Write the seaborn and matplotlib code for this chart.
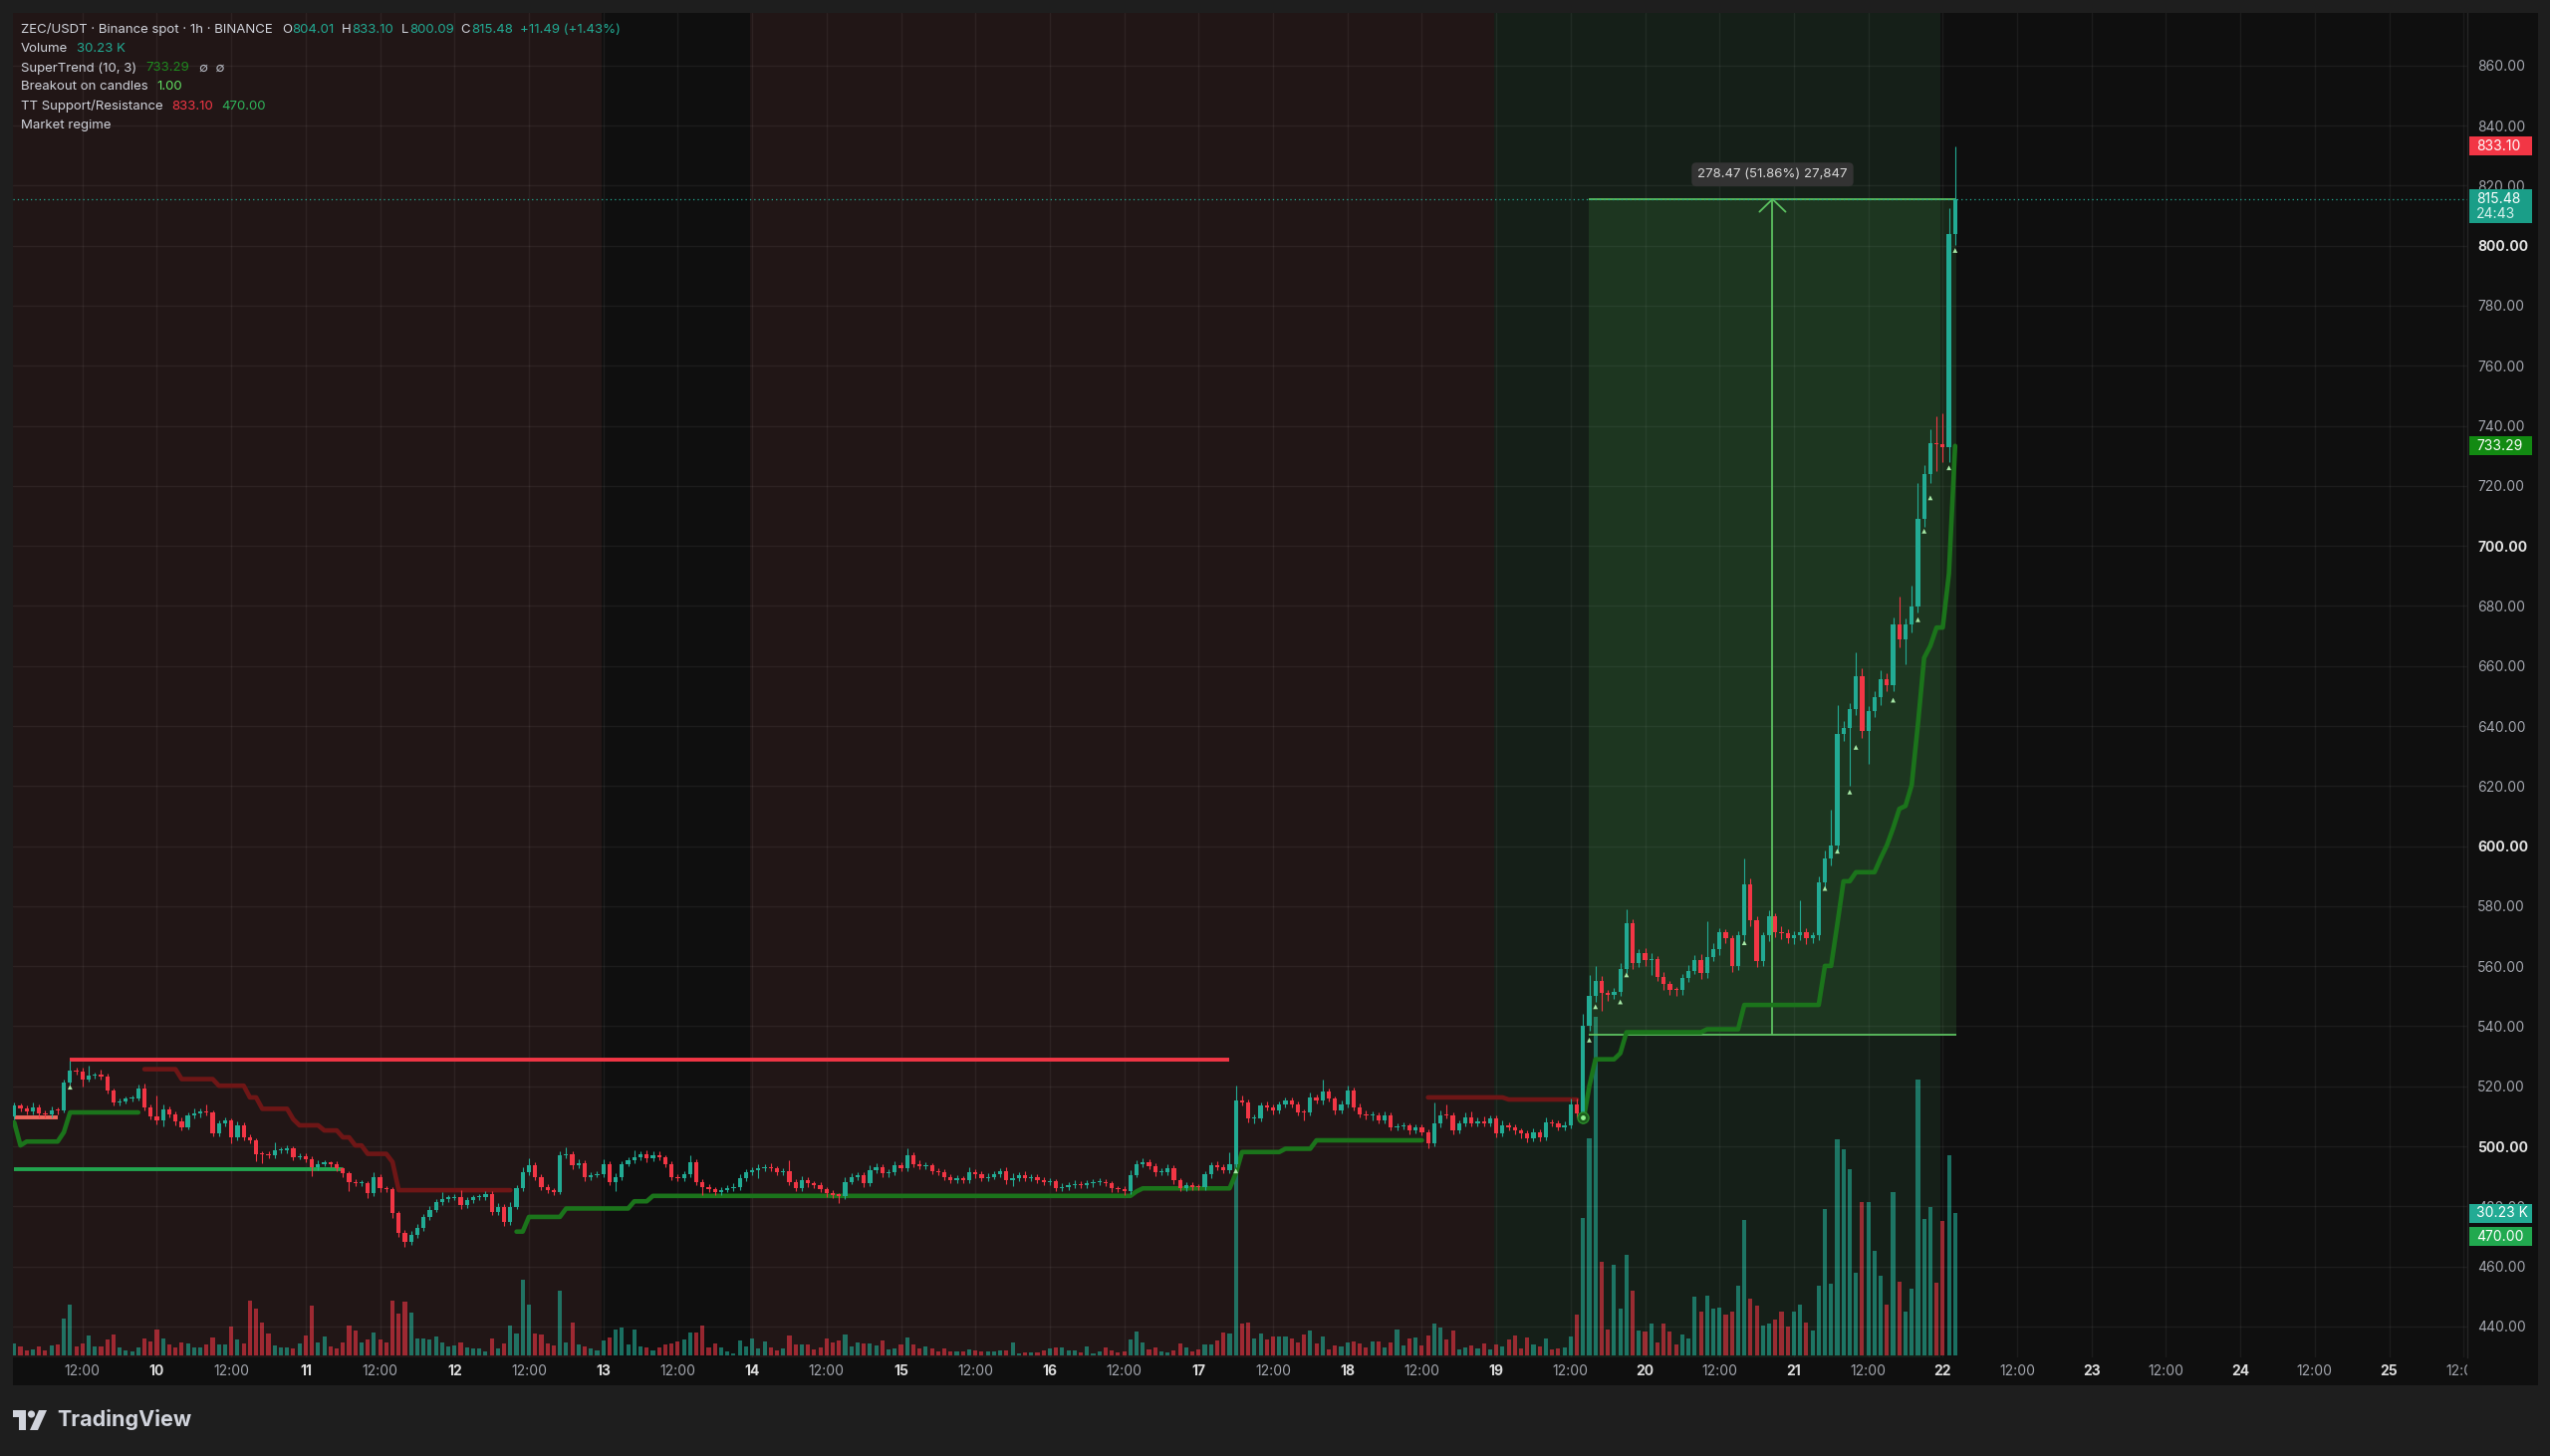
import numpy as np
import pandas as pd
import seaborn as sns
import matplotlib.pyplot as plt
from matplotlib.patches import Rectangle, Circle, Polygon

# ZEC/USDT 1h candles, from the 9th 01:00 to the 22nd 02:00
first_open = 510.0
closes = [
    # 9th
    513.5, 512.5, 511.5, 513.0, 511.0, 510.5, 512.0, 511.8, 521.3, 525.2, 525.0, 522.4,
    523.5, 523.7, 523.4, 518.6, 514.7, 515.0, 515.8, 516.0, 519.1, 513.0, 510.0,
    # 10th
    508.6, 512.2, 510.8, 508.3, 506.4, 510.3, 511.0, 511.6, 511.3, 504.2, 507.5, 508.6,
    503.1, 507.0, 503.1, 502.0, 497.5, 497.3, 497.0, 498.7, 498.8, 499.2, 496.5, 496.8,
    # 11th
    495.7, 493.1, 494.2, 494.3, 494.2, 492.6, 491.0, 488.2, 487.6, 487.7, 484.3, 489.8,
    486.0, 485.7, 477.7, 471.0, 468.3, 470.5, 472.7, 476.5, 478.8, 481.5, 482.6, 482.9,
    # 12th
    483.2, 480.4, 482.0, 483.0, 483.2, 484.0, 478.2, 479.9, 474.9, 479.9, 486.0, 491.5,
    493.7, 489.8, 486.5, 485.4, 484.8, 497.0, 497.5, 493.7, 494.5, 489.8, 490.4, 490.6,
    # 13th
    494.2, 488.2, 489.8, 494.2, 495.3, 496.4, 497.5, 495.9, 497.2, 496.4, 494.2, 489.8,
    489.5, 490.6, 494.8, 488.2, 486.5, 485.7, 484.8, 485.4, 486.0, 486.5, 489.3, 491.3,
    # 14th
    492.0, 492.6, 493.1, 492.6, 491.5, 491.7, 488.2, 486.0, 488.7, 487.6, 487.0, 485.7,
    484.3, 483.7, 483.6, 488.2, 489.8, 490.4, 487.6, 492.0, 493.1, 490.9, 491.3, 493.7,
    # 15th
    492.8, 497.0, 494.2, 493.5, 493.7, 491.7, 491.5, 489.8, 488.7, 489.3, 488.7, 491.5,
    490.6, 489.5, 489.8, 490.6, 491.7, 488.7, 489.5, 490.4, 489.5, 489.8, 488.7, 488.2,
    # 16th
    488.3, 486.2, 486.5, 487.0, 487.3, 487.0, 487.6, 488.2, 488.2, 487.6, 486.0, 485.7,
    485.0, 490.4, 494.2, 494.8, 493.5, 491.3, 491.5, 492.6, 488.7, 486.2, 487.0, 486.5,
    # 17th
    486.4, 490.6, 493.7, 493.1, 492.0, 494.2, 515.2, 514.7, 509.2, 509.4, 513.6, 513.0,
    511.9, 514.1, 515.2, 514.1, 511.4, 511.3, 516.3, 515.2, 518.2, 515.8, 512.0, 514.1,
    # 18th
    518.6, 513.0, 510.8, 510.3, 510.4, 508.6, 510.3, 506.4, 506.7, 506.9, 505.3, 506.4,
    504.7, 500.9, 507.5, 510.3, 510.2, 505.3, 507.5, 509.7, 507.8, 508.3, 507.5, 509.2,
    # 19th
    504.2, 507.0, 506.4, 505.3, 504.2, 502.7, 504.7, 503.1, 508.1, 507.5, 506.4, 507.0,
    514.1, 511.0, 540.0, 550.1, 555.1, 551.1, 550.5, 551.5, 559.1, 574.2, 561.1, 564.5,
    # 20th
    562.1, 562.5, 556.5, 554.1, 552.1, 552.0, 556.1, 558.5, 562.1, 557.7, 563.1, 565.7,
    571.2, 569.2, 560.1, 570.2, 587.3, 575.2, 561.7, 570.2, 576.6, 571.2, 570.9, 569.2,
    # 21st
    570.2, 571.2, 569.2, 570.2, 587.9, 595.9, 600.3, 637.5, 639.5, 645.6, 656.6, 638.5,
    645.0, 649.6, 655.6, 653.6, 673.7, 668.7, 673.7, 679.8, 709.0, 724.0, 734.1, 733.8,
    # 22nd
    733.0, 803.99, 815.48,
]

wick_hi = [
    1.2, 0.8, 1.0, 1.5, 0.8, 1.0, 1.2, 1.0, 0.8, 3.3, 1.0, 1.2,
    3.5, 1.0, 1.8, 0.8, 0.6, 1.0, 0.8, 1.0, 1.5, 1.9, 1.0,
    6.8, 1.8, 1.0, 0.8, 1.2, 1.0, 1.5, 1.0, 2.4, 0.8, 1.0, 1.2,
    0.8, 1.2, 1.0, 0.8, 0.6, 1.0, 1.2, 2.8, 1.0, 1.2, 0.8, 1.0,
    0.8, 1.0, 1.2, 1.0, 0.8, 1.0, 0.6, 0.8, 1.0, 1.0, 0.8, 1.5,
    1.0, 0.8, 0.6, 0.8, 1.0, 1.2, 1.3, 1.0, 1.2, 1.0, 2.2, 1.0,
    1.0, 2.2, 1.0, 0.8, 1.0, 1.2, 1.0, 1.2, 0.8, 1.5, 1.0, 1.5,
    2.3, 1.0, 0.8, 1.0, 0.8, 1.5, 2.3, 1.0, 1.2, 0.8, 1.0, 1.2,
    1.5, 1.0, 1.2, 1.0, 1.2, 2.2, 1.0, 1.2, 1.0, 1.0, 0.8, 1.0,
    1.0, 1.2, 2.2, 1.0, 0.8, 1.0, 0.8, 1.0, 1.0, 1.2, 1.5, 1.0,
    1.2, 1.6, 1.0, 1.2, 0.8, 1.0, 3.7, 1.0, 1.5, 1.0, 0.8, 1.0,
    0.8, 1.0, 0.6, 1.5, 1.2, 1.0, 1.0, 1.8, 1.2, 1.0, 1.0, 1.2,
    1.0, 2.2, 1.0, 1.2, 1.0, 0.8, 1.0, 0.8, 1.0, 1.2, 0.8, 1.5,
    1.0, 1.0, 1.2, 1.0, 1.0, 1.2, 1.5, 1.0, 1.2, 1.0, 0.8, 1.0,
    1.0, 0.8, 1.2, 1.0, 1.5, 1.2, 1.0, 1.0, 1.2, 1.0, 0.8, 0.8,
    1.0, 1.5, 1.2, 1.2, 1.0, 1.0, 1.2, 1.5, 1.0, 0.8, 1.0, 1.0,
    1.0, 1.2, 1.0, 1.2, 1.0, 3.8, 5.0, 1.8, 1.0, 1.2, 1.0, 1.2,
    1.0, 1.0, 1.2, 1.0, 0.8, 1.0, 1.5, 1.0, 4.2, 1.0, 0.8, 1.2,
    1.5, 1.0, 1.2, 1.0, 1.2, 0.8, 1.2, 1.0, 1.0, 1.2, 0.8, 1.0,
    1.0, 0.8, 7.2, 1.5, 3.7, 1.0, 1.2, 1.5, 2.0, 1.2, 1.8, 1.2,
    1.0, 1.5, 1.0, 1.0, 0.8, 1.0, 1.2, 1.0, 1.5, 1.0, 1.0, 1.2,
    1.8, 1.9, 4.0, 6.9, 4.9, 1.5, 1.0, 1.2, 2.0, 4.8, 1.5, 1.2,
    1.5, 2.0, 1.0, 1.5, 1.0, 1.0, 1.2, 2.0, 1.5, 2.0, 11.9, 2.0,
    1.5, 1.2, 1.0, 1.5, 8.7, 2.0, 1.5, 1.2, 2.0, 1.0, 2.0, 1.5,
    1.5, 10.8, 1.5, 1.2, 2.0, 2.5, 11.7, 9.5, 2.0, 2.0, 8.0, 2.5,
    1.5, 2.0, 3.0, 2.0, 2.5, 9.3, 2.0, 7.0, 12.0, 3.0, 4.9, 8.9,
    10.2, 8.5, 17.62,
]

wick_lo = [
    1.0, 0.8, 1.0, 0.8, 1.2, 1.0, 0.8, 1.0, 0.6, 0.8, 1.0, 2.4,
    0.8, 1.0, 1.2, 1.0, 1.2, 1.0, 0.8, 1.0, 0.8, 1.2, 1.0,
    1.2, 2.1, 1.0, 1.2, 1.0, 0.8, 1.0, 1.2, 1.0, 1.0, 0.8, 1.0,
    2.1, 1.0, 1.2, 1.0, 2.5, 2.8, 1.0, 0.8, 1.0, 1.2, 1.0, 0.8,
    1.0, 3.1, 1.0, 0.8, 1.2, 1.0, 1.2, 3.2, 1.0, 1.0, 1.5, 1.0,
    1.2, 1.0, 1.5, 1.2, 1.8, 1.2, 1.0, 0.8, 1.0, 0.8, 1.0, 1.2,
    0.8, 1.2, 1.0, 1.0, 0.8, 1.0, 1.2, 1.0, 1.5, 1.0, 0.8, 1.0,
    1.0, 1.2, 1.2, 1.0, 1.0, 0.8, 1.0, 1.2, 1.0, 1.5, 1.0, 0.8,
    1.0, 1.2, 3.2, 1.0, 0.8, 1.0, 1.0, 1.2, 1.0, 1.0, 1.2, 1.2,
    1.0, 1.0, 0.8, 1.2, 2.7, 1.0, 1.0, 1.0, 0.8, 1.0, 1.0, 0.8,
    1.0, 2.7, 1.0, 1.0, 1.2, 1.0, 1.2, 1.0, 1.0, 1.2, 1.0, 1.0,
    1.2, 1.0, 2.6, 1.0, 0.8, 1.0, 1.2, 1.0, 0.8, 1.2, 1.0, 1.0,
    1.2, 1.0, 1.0, 1.2, 1.0, 1.0, 1.2, 1.0, 1.0, 0.8, 1.0, 1.0,
    1.2, 1.0, 1.0, 0.8, 1.0, 1.2, 2.0, 1.0, 1.0, 1.2, 1.0, 1.0,
    1.0, 1.2, 1.0, 1.0, 0.8, 1.0, 1.0, 1.2, 1.0, 1.0, 1.2, 1.0,
    1.2, 1.0, 0.8, 1.0, 1.0, 1.2, 1.0, 1.0, 1.2, 1.2, 1.0, 1.0,
    1.0, 1.0, 1.2, 1.0, 1.0, 1.0, 1.2, 1.0, 1.2, 1.5, 1.0, 1.0,
    1.2, 1.0, 1.0, 1.0, 1.2, 2.7, 1.0, 1.0, 1.2, 1.0, 1.2, 1.0,
    1.0, 1.2, 1.0, 1.2, 1.5, 1.0, 1.0, 1.2, 1.0, 1.0, 1.2, 1.0,
    1.0, 1.5, 1.0, 1.2, 1.0, 1.2, 1.0, 1.0, 1.2, 1.0, 1.0, 1.0,
    1.2, 1.0, 1.0, 1.2, 1.5, 1.2, 1.0, 1.5, 1.0, 1.0, 1.2, 1.0,
    1.0, 1.2, 1.0, 1.5, 2.0, 6.1, 2.0, 1.5, 1.5, 1.5, 2.0, 1.5,
    2.0, 5.1, 1.5, 2.0, 1.5, 2.0, 1.5, 1.5, 1.0, 2.0, 1.5, 1.5,
    2.0, 1.5, 2.0, 1.5, 1.5, 2.0, 2.0, 1.5, 2.0, 1.5, 2.0, 1.5,
    2.0, 1.5, 2.0, 1.5, 1.5, 2.0, 2.5, 2.0, 2.5, 19.5, 2.0, 2.5,
    11.0, 2.0, 2.5, 2.0, 2.0, 2.5, 8.0, 2.5, 2.0, 2.5, 3.0, 8.8,
    5.0, 5.0, 3.9,
]

# volume in thousands
volume_k = [
    2.6, 2.0, 1.1, 1.2, 1.9, 1.1, 2.1, 2.3, 7.8, 10.8, 2.0, 2.6,
    4.2, 2.0, 1.9, 3.4, 4.4, 1.8, 1.1, 0.9, 1.6, 3.5, 3.0,
    5.6, 3.7, 2.3, 1.8, 2.8, 2.5, 1.6, 1.6, 2.3, 3.9, 2.3, 2.3,
    6.1, 3.3, 2.5, 11.7, 10.0, 6.9, 4.7, 2.1, 1.8, 1.8, 1.4, 2.5,
    4.2, 10.5, 2.8, 4.0, 2.0, 1.4, 2.8, 6.4, 5.2, 2.7, 3.3, 4.9,
    3.4, 2.7, 11.7, 8.8, 11.4, 9.2, 3.5, 3.7, 3.3, 4.0, 2.7, 2.0,
    2.1, 2.8, 1.6, 1.4, 1.4, 0.8, 3.7, 1.4, 2.5, 6.4, 4.7, 16.0,
    10.9, 4.7, 4.4, 2.5, 2.1, 13.8, 2.8, 6.9, 2.3, 1.9, 1.4, 1.1,
    3.2, 3.9, 5.5, 6.0, 2.3, 5.5, 2.0, 1.6, 1.1, 1.6, 2.3, 2.6,
    3.0, 3.3, 4.8, 4.8, 6.4, 1.6, 2.5, 1.6, 0.9, 0.5, 3.2, 1.9,
    3.7, 1.4, 3.0, 1.8, 1.1, 1.4, 4.2, 2.3, 2.3, 2.3, 1.2, 1.8,
    3.7, 2.8, 3.2, 4.4, 2.0, 2.8, 2.5, 2.5, 2.1, 3.2, 1.2, 1.4,
    2.3, 3.9, 2.3, 1.4, 1.9, 1.4, 0.8, 1.4, 0.9, 0.8, 0.9, 1.3,
    1.1, 0.9, 0.9, 0.8, 1.1, 1.1, 2.7, 0.5, 0.6, 0.6, 0.7, 1.1,
    1.4, 1.8, 1.8, 1.1, 1.1, 0.7, 2.0, 0.5, 0.8, 1.6, 1.1, 0.7,
    0.8, 3.4, 5.1, 2.7, 1.3, 1.6, 0.9, 0.7, 1.1, 2.5, 1.6, 0.8,
    1.2, 2.3, 2.3, 3.2, 4.9, 4.6, 50.0, 6.8, 7.0, 3.6, 4.6, 3.4,
    4.1, 4.0, 4.0, 3.7, 2.8, 4.4, 5.4, 2.5, 4.0, 1.3, 2.2, 2.0,
    2.7, 3.0, 2.5, 1.8, 3.0, 2.9, 1.8, 2.7, 5.5, 2.2, 3.6, 3.9,
    2.2, 4.3, 6.7, 5.9, 3.4, 5.4, 1.3, 1.8, 2.2, 1.5, 2.5, 1.3,
    2.3, 2.0, 3.4, 4.3, 1.5, 3.9, 2.3, 2.0, 3.5, 1.3, 1.5, 1.6,
    4.1, 8.7, 29.3, 46.1, 72.0, 20.0, 5.6, 19.3, 9.9, 21.5, 13.8, 5.4,
    5.0, 6.7, 2.7, 6.8, 5.0, 2.3, 4.4, 3.6, 12.6, 9.3, 12.8, 10.0,
    10.2, 8.7, 9.3, 14.9, 28.8, 12.1, 10.5, 6.4, 6.7, 7.6, 9.4, 6.2,
    9.3, 10.8, 6.9, 5.4, 14.9, 31.1, 15.2, 45.9, 43.9, 39.6, 17.5, 32.7,
    32.6, 22.2, 17.0, 10.9, 34.7, 15.7, 9.4, 14.2, 58.7, 29.0, 31.6, 15.4,
    28.6, 42.6, 30.23,
]

# SuperTrend (10, 3): levels where the line steps, and the trend segments
st_idx = [0, 1, 2, 8, 9,
          21, 27, 33, 38, 40, 45, 46, 50, 53, 55, 57, 61, 62,
          81, 83, 89, 100, 103, 181, 182, 197, 198, 205, 210,
          228, 241,
          253, 254, 255, 259, 260, 273, 279, 292, 294, 295, 297, 301, 302, 303,
          304, 305, 306, 307, 308, 309, 310, 312, 313]
st_val = [508.0, 500.3, 501.6, 504.7, 511.3,
          525.7, 522.4, 520.2, 516.3, 512.5, 509.0, 507.0, 505.3, 503.0, 500.3, 497.5, 494.8, 485.4,
          471.6, 476.5, 479.3, 481.7, 483.5, 485.0, 486.0, 491.0, 498.1, 499.2, 502.0,
          516.3, 515.6,
          508.1, 520.0, 529.0, 531.0, 538.0, 539.0, 547.1, 560.1, 574.0, 588.3, 591.3, 596.0, 600.3, 606.0,
          612.4, 613.4, 620.4, 640.6, 662.7, 666.7, 672.8, 690.8, 733.3]
st_seg_start = [0, 21, 81, 228, 253]
st_seg_end = [20, 80, 227, 252, 313]
st_seg_up = [True, False, True, False, True]

# TT Support/Resistance levels
tt_levels = [529.0, 509.5, 492.5]
tt_from = [9, 0, 0]
tt_to = [196, 7, 53]
tt_colors = ['#f23645', '#f0675c', '#22a44f']

# breakout markers
brk_idx = [9, 197, 254, 255, 259, 260, 279, 292, 294, 296, 297, 303, 307, 308, 309, 312, 313]
brk_price = [519.7, 491.8, 535.4, 546.5, 548.1, 557.1, 567.8, 585.9, 598.3, 618.0, 632.9,
             648.6, 675.4, 704.9, 716.0, 726.0, 798.4]

# market regime background
regime_edges = [-1, 95, 119, 239, 311, 400]
regime_colors = ['#211616', '#0f0f0f', '#211616', '#151f18', '#0f0f0f']

# measure tool
measure_x = [253.9, 313.2]
measure_y = [537.01, 815.48]
measure_text = '278.47 (51.86%) 27,847'

last_close = 815.48

price_ticks = [440, 460, 480, 500, 520, 540, 560, 580, 600, 620, 640,
               660, 680, 700, 720, 740, 760, 780, 800, 820, 840, 860]
price_labels = ['440.00', '460.00', '480.00', '500.00', '520.00', '540.00', '560.00',
                '580.00', '600.00', '620.00', '640.00', '660.00', '680.00', '700.00',
                '720.00', '740.00', '760.00', '780.00', '800.00', '820.00', '840.00', '860.00']
bold_prices = [500, 600, 700, 800]

time_ticks = [11, 23, 35, 47, 59, 71, 83, 95, 107, 119, 131, 143, 155, 167, 179, 191,
              203, 215, 227, 239, 251, 263, 275, 287, 299, 311, 323, 335, 347, 359, 371, 383, 395]
time_labels = ['12:00', '10', '12:00', '11', '12:00', '12', '12:00', '13', '12:00', '14',
               '12:00', '15', '12:00', '16', '12:00', '17', '12:00', '18', '12:00', '19',
               '12:00', '20', '12:00', '21', '12:00', '22', '12:00', '23', '12:00', '24',
               '12:00', '25', '12:00']

n = len(closes)
assert len(wick_hi) == n and len(wick_lo) == n and len(volume_k) == n

UP = '#22ab94'
DOWN = '#f23645'

sns.set_theme(style='dark', rc={'figure.facecolor': '#1e1e1e', 'axes.facecolor': '#0f0f0f',
                                'axes.edgecolor': '#0f0f0f'})
plt.rcParams['font.family'] = ['Inter', 'DejaVu Sans']

W, H = 2560, 1462
fig = plt.figure(figsize=(W / 100, H / 100), dpi=100)

# dark chart panel
fig.add_artist(Rectangle((13 / W, 1 - 1391 / H), (2548 - 13) / W, (1391 - 13) / H,
                         transform=fig.transFigure, facecolor='#0f0f0f', lw=0, zorder=-1))

ax_vol = fig.add_axes([13 / W, 1 - 1363 / H, (2477 - 13) / W, (1363 - 13) / H])
ax = ax_vol.twinx()
ax_t = fig.add_axes([13 / W, 1 - 1391 / H, (2477 - 13) / W, 28 / H])

x = np.arange(n)
c = np.array(closes)
o = np.array([first_open] + closes[:-1])
top = np.maximum(o, c)
bot = np.minimum(o, c)
hi = top + np.array(wick_hi)
lo = bot - np.array(wick_lo)
up = c >= o

xlim = (-0.21, 395.6)

# background regimes, grid and volume
for k in range(len(regime_colors)):
    ax_vol.axvspan(regime_edges[k] - 0.3, regime_edges[k + 1] - 0.3, color=regime_colors[k], lw=0, zorder=0)
ax_vol.set_xlim(*xlim)
ax_vol.set_ylim(-0.42, 285.6)
ax_vol.set_xticks(time_ticks)
ax_vol.tick_params(axis='x', length=0, labelbottom=False)
ax_vol.set_yticks([])
ax_vol.grid(axis='x', color='white', alpha=0.055, lw=1)
ax_vol.set_axisbelow(True)
vol_colors = [(0.133, 0.671, 0.58, 0.62) if u else (0.949, 0.212, 0.271, 0.6) for u in up]
ax_vol.bar(x, volume_k, width=0.66, color=vol_colors, lw=0, zorder=2)
for s in ax_vol.spines.values():
    s.set_visible(False)

# price axis
ax.set_ylim(429.7, 877.5)
ax.set_yticks(price_ticks, labels=price_labels)
ax.tick_params(axis='y', length=0, pad=7.2, labelsize=10, labelcolor='#a3a6ae',
               right=True, labelright=True, left=False, labelleft=False)
for lbl, v in zip(ax.get_yticklabels(), price_ticks):
    if v in bold_prices:
        lbl.set_fontweight('bold')
        lbl.set_color('#e2e2e2')
ax.grid(axis='y', color='white', alpha=0.055, lw=1)
ax.set_axisbelow(True)
for name, s in ax.spines.items():
    s.set_visible(name == 'right')
ax.spines['right'].set_color('#262626')
ax.spines['right'].set_linewidth(1)

# measure box (behind candles)
mx0, mx1 = measure_x
my0, my1 = measure_y
ax.add_patch(Rectangle((mx0, my0), mx1 - mx0, my1 - my0, facecolor='#4caf50', alpha=0.16, lw=0, zorder=1))
ax.hlines([my0, my1], mx0, mx1, color='#5cc160', lw=1.3, zorder=2)
mid = (mx0 + mx1) / 2
ax.vlines(mid, my0, my1, color='#5cc160', lw=1.3, zorder=2)
ax.plot([mid - 2.1, mid, mid + 2.1], [my1 - 4.2, my1, my1 - 4.2], color='#5cc160', lw=1.3, zorder=2)
ax.text(mid, 823.7, measure_text, ha='center', va='center', fontsize=9.5, color='#d8d8d8', zorder=9,
        bbox=dict(boxstyle='round,pad=0.45,rounding_size=0.35', fc='#333333', ec='none'))

# last price line
ax.axhline(last_close, color=UP, lw=0.9, ls=(0, (1, 2.5)), zorder=2)

# TT support / resistance
for lvl, a, b, col in zip(tt_levels, tt_from, tt_to, tt_colors):
    ax.hlines(lvl, a, b, color=col, lw=2.8, zorder=3)

# SuperTrend
st_full = pd.Series(np.nan, index=range(n))
st_full[st_idx] = st_val
st_full = st_full.ffill()
for a, b, is_up in zip(st_seg_start, st_seg_end, st_seg_up):
    seg = st_full.loc[a:b]
    sns.lineplot(x=seg.index, y=seg.values, ax=ax, color='#1b741b' if is_up else '#6e1616',
                 linewidth=3.3, legend=False, estimator=None, sort=False, zorder=3)

# candles
cols = [UP if u else DOWN for u in up]
ax.vlines(x, lo, hi, color=cols, lw=0.8, zorder=4)
ax.bar(x, np.maximum(top - bot, 0.35), bottom=bot, width=0.68, color=cols, lw=0, zorder=5)

# supertrend flip and breakout markers
ax.plot(253, 509.5, 'o', ms=8, mfc='#1b5a1b', mec='#2a8a2a', mew=1, zorder=6)
ax.plot(253, 509.5, 'o', ms=2.5, color='#8ff08f', zorder=7)
sns.scatterplot(x=brk_idx, y=brk_price, ax=ax, marker='^', s=12, color='#a6e8a6',
                edgecolor='none', legend=False, zorder=7)
ax.set_xlim(*xlim)

# time axis strip
ax_t.set_xlim(*xlim)
ax_t.set_ylim(0, 1)
ax_t.axis('off')
for t, lab in zip(time_ticks, time_labels):
    day = lab != '12:00'
    ax_t.text(t, 0.5, lab, ha='center', va='center', fontsize=10, clip_on=True,
              color='#dcdcdc' if day else '#a3a6ae', fontweight='bold' if day else 'normal')

# value tags on the price scale
def tag(src, val, lines, color):
    yc = src.transData.transform((0, val))[1]
    h = 19 if len(lines) == 1 else 34
    fig.add_artist(Rectangle((2479 / W, (yc + 9.5 - h) / H), 63 / W, h / H,
                             transform=fig.transFigure, facecolor=color, lw=0, zorder=5))
    for k, (s, col) in enumerate(lines):
        fig.text(2486 / W, (yc - 15 * k) / H, s, color=col, fontsize=10, ha='left',
                 va='center', zorder=6)

tag(ax, 833.10, [('833.10', 'white')], '#f23645')
tag(ax, 815.48, [('815.48', 'white'), ('24:43', '#d6f1ec')], '#1a9e88')
tag(ax, 733.29, [('733.29', 'white')], '#128a12')
tag(ax_vol, 30.23, [('30.23 K', 'white')], '#22ab94')
tag(ax, 470.00, [('470.00', 'white')], '#21a94f')

# indicator legend in the top-left corner
renderer = fig.canvas.get_renderer()
GRAY = '#d1d4dc'

def draw_parts(px, py, parts, size=9.5):
    for s, col, gap in parts:
        t = fig.text(px / W, 1 - py / H, s, color=col, fontsize=size, ha='left', va='center', zorder=8)
        px += t.get_window_extent(renderer=renderer).width + gap

draw_parts(21, 30, [('ZEC/USDT · Binance spot · 1h · BINANCE', GRAY, 9),
                    ('O', GRAY, 1), ('804.01', UP, 7), ('H', GRAY, 1), ('833.10', UP, 7),
                    ('L', GRAY, 1), ('800.09', UP, 7), ('C', GRAY, 1), ('815.48', UP, 7),
                    ('+11.49 (+1.43%)', UP, 0)])
draw_parts(21, 49.3, [('Volume', GRAY, 9), ('30.23 K', UP, 0)])
draw_parts(21, 68.3, [('SuperTrend (10, 3)', GRAY, 9), ('733.29', '#1f8a1f', 10), ('∅  ∅', '#b2b5be', 0)])
draw_parts(21, 87.3, [('Breakout on candles', GRAY, 9), ('1.00', '#62e062', 0)])
draw_parts(21, 106.7, [('TT Support/Resistance', GRAY, 9), ('833.10', '#f23645', 8), ('470.00', '#2fb35a', 0)])
draw_parts(21, 126, [('Market regime', GRAY, 0)])

# TradingView footer
ax_logo = fig.add_axes([13 / W, 1 - 1438 / H, 36 / W, 24 / H])
ax_logo.set_xlim(0, 36)
ax_logo.set_ylim(0, 24)
ax_logo.axis('off')
ax_logo.add_patch(Rectangle((0, 15), 13, 7, color=GRAY, lw=0))
ax_logo.add_patch(Rectangle((6, 2), 7, 20, color=GRAY, lw=0))
ax_logo.add_patch(Circle((18.5, 18), 3.6, color=GRAY, lw=0))
ax_logo.add_patch(Polygon([(17, 2), (25, 2), (34, 22), (26, 22)], closed=True, color=GRAY, lw=0))
fig.text(57 / W, 1 - 1426 / H, 'TradingView', color=GRAY, fontsize=15.5, fontweight='bold',
         ha='left', va='center')

fig.savefig('out.png', dpi=100, facecolor=fig.get_facecolor())
